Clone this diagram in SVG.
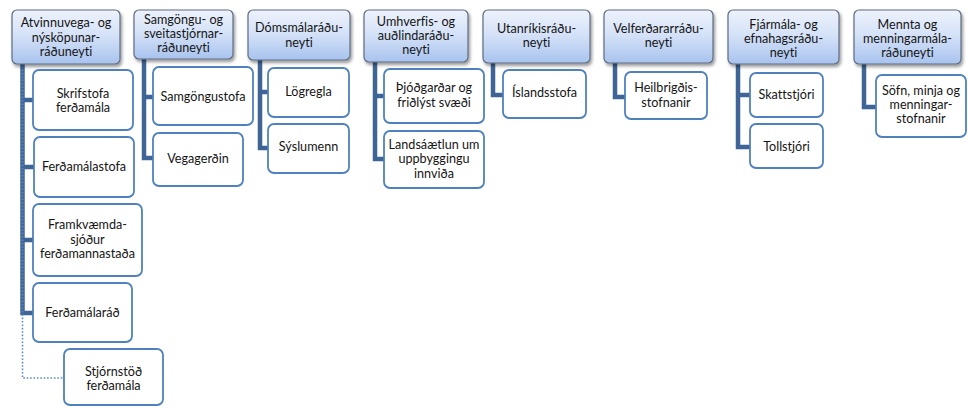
<svg xmlns="http://www.w3.org/2000/svg" width="968" height="408" viewBox="0 0 968 408">
<defs>
<linearGradient id="hg" x1="0" y1="0" x2="0" y2="1">
<stop offset="0" stop-color="#EEF3FC"/>
<stop offset="0.5" stop-color="#D2E0F7"/>
<stop offset="1" stop-color="#A8C3EE"/>
</linearGradient>
<filter id="sh" x="-10%" y="-10%" width="125%" height="135%">
<feDropShadow dx="1.5" dy="2.5" stdDeviation="1.6" flood-color="#000" flood-opacity="0.4"/>
</filter>
</defs>
<style>
.hd{fill:url(#hg);stroke:#5E6C82;stroke-width:1.2;filter:url(#sh)}
.ch{fill:#fff;stroke:#4F81BD;stroke-width:1.8}
.tr{fill:none;stroke:#3F6596;stroke-width:4.5;stroke-linejoin:miter}
.dt{fill:none;stroke:#5A8AD0;stroke-width:1.6;stroke-dasharray:1.6 1.8}
text{font-family:Lato,"Open Sans","Liberation Sans",sans-serif;font-size:12.6px;fill:#151515;text-anchor:middle;font-variant-ligatures:none}
</style>
<rect width="968" height="408" fill="#fff"/>
<g id="connectors">
<path class="tr" d="M22.5 64 V313 H33 M22.5 100 H33 M22.5 167 H34 M22.5 240 H33"/>
<path class="dt" d="M22.5 66 V378 H64"/>
<path class="tr" d="M144 59 V158 H153 M144 97 H153"/>
<path class="tr" d="M260 60 V148 H268 M260 92 H268"/>
<path class="tr" d="M375 62 V159 H384 M375 96 H384"/>
<path class="tr" d="M493 63 V95 H503"/>
<path class="tr" d="M615 63 V97 H625"/>
<path class="tr" d="M738 64 V147 H750 M738 95 H750"/>
<path class="tr" d="M864 64 V107 H876"/>
</g>
<g id="h1"><rect class="hd" x="12" y="10" width="108" height="54" rx="5"/><text x="66" y="27">Atvinnuvega- og</text><text x="66" y="41.5">nýsköpunar-</text><text x="66" y="56">ráðuneyti</text></g>
<g id="h2"><rect class="hd" x="134" y="10" width="99" height="49" rx="5"/><text x="183.5" y="24">Samgöngu- og</text><text x="183.5" y="38">sveitastjórnar-</text><text x="183.5" y="52">ráðuneyti</text></g>
<g id="h3"><rect class="hd" x="248" y="10" width="102" height="50" rx="5"/><text x="299" y="32">Dómsmálaráðu-</text><text x="299" y="47">neyti</text></g>
<g id="h4"><rect class="hd" x="364" y="10" width="104" height="52" rx="5"/><text x="416" y="26">Umhverfis- og</text><text x="416" y="40">auðlindaráðu-</text><text x="416" y="54">neyti</text></g>
<g id="h5"><rect class="hd" x="483" y="10" width="107" height="53" rx="5"/><text x="536.5" y="33">Utanríkisráðu-</text><text x="536.5" y="47">neyti</text></g>
<g id="h6"><rect class="hd" x="604" y="10" width="109" height="53" rx="5"/><text x="658.5" y="33">Velferðararráðu-</text><text x="658.5" y="47">neyti</text></g>
<g id="h7"><rect class="hd" x="728" y="10" width="111" height="54" rx="5"/><text x="783.5" y="29">Fjármála- og</text><text x="783.5" y="43">efnahagsráðu-</text><text x="783.5" y="57">neyti</text></g>
<g id="h8"><rect class="hd" x="854" y="10" width="107" height="54" rx="5"/><text x="907.5" y="29">Mennta og</text><text x="907.5" y="43">menningarmála-</text><text x="907.5" y="57">ráðuneyti</text></g>
<g id="c1a"><rect class="ch" x="33" y="70" width="100" height="60" rx="6"/><text x="83" y="98">Skrifstofa</text><text x="83" y="112">ferðamála</text></g>
<g id="c1b"><rect class="ch" x="34" y="137" width="100" height="60" rx="6"/><text x="84" y="171">Ferðamálastofa</text></g>
<g id="c1c"><rect class="ch" x="33" y="204" width="109" height="72" rx="6"/><text x="87.5" y="229">Framkvæmda-</text><text x="87.5" y="244">sjóður</text><text x="87.5" y="258">ferðamannastaða</text></g>
<g id="c1d"><rect class="ch" x="33" y="283" width="99" height="59" rx="6"/><text x="82.5" y="317">Ferðamálaráð</text></g>
<g id="c1e"><rect class="ch" x="64" y="349" width="99" height="56" rx="6"/><text x="113.5" y="376">Stjórnstöð</text><text x="113.5" y="390">ferðamála</text></g>
<g id="c2a"><rect class="ch" x="153" y="67" width="100" height="58" rx="6"/><text x="203" y="101">Samgöngustofa</text></g>
<g id="c2b"><rect class="ch" x="153" y="133" width="90" height="53" rx="6"/><text x="198" y="163">Vegagerðin</text></g>
<g id="c3a"><rect class="ch" x="268" y="68" width="81" height="49" rx="6"/><text x="308.5" y="96">Lögregla</text></g>
<g id="c3b"><rect class="ch" x="268" y="124" width="81" height="49" rx="6"/><text x="308.5" y="151">Sýslumenn</text></g>
<g id="c4a"><rect class="ch" x="384" y="69" width="100" height="54" rx="6"/><text x="434" y="92">Þjóðgarðar og</text><text x="434" y="107">friðlýst svæði</text></g>
<g id="c4b"><rect class="ch" x="384" y="131" width="100" height="57" rx="6"/><text x="434" y="149">Landsáætlun um</text><text x="434" y="163">uppbyggingu</text><text x="434" y="178">innviða</text></g>
<g id="c5a"><rect class="ch" x="503" y="70" width="83" height="48" rx="6"/><text x="544.5" y="97">Íslandsstofa</text></g>
<g id="c6a"><rect class="ch" x="625" y="72" width="82" height="47" rx="6"/><text x="666" y="92">Heilbrigðis-</text><text x="666" y="107">stofnanir</text></g>
<g id="c7a"><rect class="ch" x="750" y="73" width="73" height="44" rx="6"/><text x="786.5" y="99">Skattstjóri</text></g>
<g id="c7b"><rect class="ch" x="750" y="124" width="73" height="44" rx="6"/><text x="786.5" y="151">Tollstjóri</text></g>
<g id="c8a"><rect class="ch" x="876" y="75" width="90" height="62" rx="6"/><text x="921" y="95">Söfn, minja og</text><text x="921" y="109">menningar-</text><text x="921" y="123">stofnanir</text></g>
</svg>
